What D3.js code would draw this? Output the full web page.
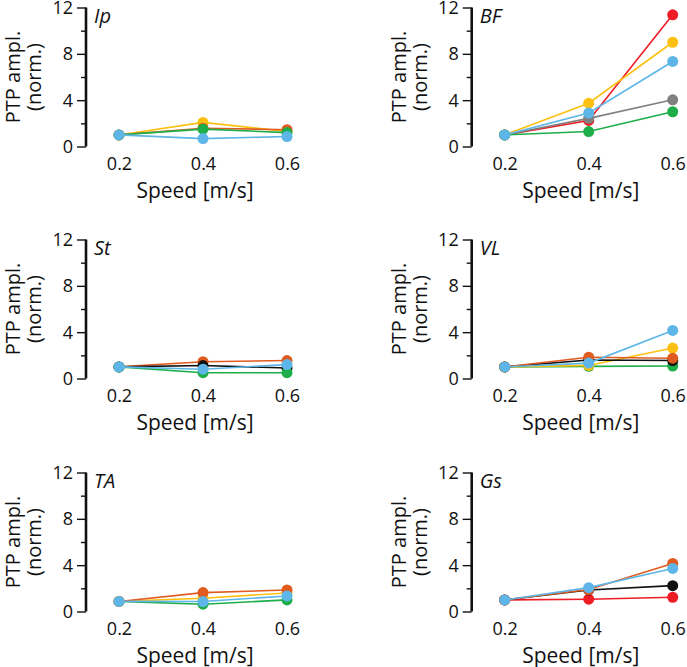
<!DOCTYPE html>
<html><head><meta charset="utf-8">
<script src="https://cdnjs.cloudflare.com/ajax/libs/d3/7.8.5/d3.min.js"></script>
<style>body{margin:0;background:#fff}svg{display:block}text{font-family:"Open Sans",sans-serif;fill:#111}</style>
</head><body>
<script>
const speeds = [0.2, 0.4, 0.6];
const yTicksMajor = [0, 4, 8, 12];
const yTicksMinor = [2, 6, 10];
const panelNames = ["Ip", "BF", "St", "VL", "TA", "Gs"];

const seriesIp = ["yellow", "orange", "green", "blue"];
const valuesIp = [[1, 2.08, 1.3], [1, 1.58, 1.45], [1, 1.5, 1.2], [1, 0.68, 0.86]];

const seriesBF = ["red", "yellow", "gray", "green", "blue"];
const valuesBF = [[1, 2.25, 11.37], [1, 3.74, 9.0], [1, 2.43, 4.03], [1, 1.29, 3.0], [1, 2.89, 7.34]];

const seriesSt = ["orange", "black", "green", "blue"];
const valuesSt = [[1, 1.45, 1.55], [1, 1.12, 0.9], [1, 0.5, 0.5], [1, 0.8, 1.2]];

const seriesVL = ["green", "yellow", "black", "orange", "blue"];
const valuesVL = [[1, 1.05, 1.08], [1, 1.13, 2.63], [1, 1.6, 1.55], [1, 1.84, 1.75], [1, 1.33, 4.15]];

const seriesTA = ["green", "yellow", "orange", "blue"];
const valuesTA = [[0.87, 0.63, 1.0], [0.87, 1.15, 1.6], [0.87, 1.63, 1.86], [0.87, 0.86, 1.34]];

const seriesGs = ["red", "black", "orange", "blue"];
const valuesGs = [[1, 1.06, 1.23], [1, 1.86, 2.23], [1, 1.9, 4.15], [1, 2.06, 3.72]];

const colors = {blue:"#5DB6E7", orange:"#E05B20", yellow:"#FDC012", green:"#1DAE4A",
  red:"#EE1C25", gray:"#808080", black:"#111111"};

const panelSeries = [seriesIp, seriesBF, seriesSt, seriesVL, seriesTA, seriesGs];
const panelValues = [valuesIp, valuesBF, valuesSt, valuesVL, valuesTA, valuesGs];

const W = 687, H = 667;
const svg = d3.select("body").append("svg").attr("width", W).attr("height", H);
const colX = [86, 471.7];
const rowTop = [7.5, 239.5, 472.5];
const ph = 139;

panelNames.forEach((name, i) => {
  const ax = colX[i % 2], top = rowTop[Math.floor(i / 2)];
  const g = svg.append("g");
  const y = d3.scaleLinear().domain([0, 12]).range([top + ph, top]);
  const x = d3.scaleLinear().domain([0.2, 0.6]).range([ax + 33, ax + 201]);

  const yAxis = d3.axisLeft(y).tickValues(yTicksMajor).tickSize(9).tickPadding(4).tickFormat(d3.format("d"));
  const ya = g.append("g").attr("transform", `translate(${ax},0)`).call(yAxis);
  ya.select(".domain").attr("d", `M0,${y(0)}V${y(12)}`).attr("stroke", "#111").attr("stroke-width", 2.6);
  ya.selectAll(".tick line").attr("stroke", "#111").attr("stroke-width", 1.4);
  ya.selectAll(".tick text").style("font-size", "18px").attr("dy", "0.34em");
  const yMinor = d3.axisLeft(y).tickValues(yTicksMinor).tickSize(5).tickFormat("");
  const ym = g.append("g").attr("transform", `translate(${ax},0)`).call(yMinor);
  ym.select(".domain").remove();
  ym.selectAll(".tick line").attr("stroke", "#111").attr("stroke-width", 1.4);

  const xAxis = d3.axisBottom(x).tickValues(speeds).tickSize(0).tickPadding(0).tickFormat(d3.format(".1f"));
  const xa = g.append("g").attr("transform", `translate(0,${y(0) + 11})`).call(xAxis);
  xa.select(".domain").remove();
  xa.selectAll(".tick text").style("font-size", "18px").attr("dy", "0.71em");

  g.append("text").attr("x", x(0.4) - 8).attr("y", y(0) + 51).attr("text-anchor", "middle")
    .style("font-size", "21px").text("Speed [m/s]");

  const lx1 = ax - 73, lx2 = ax - 52, ly = (y(0) + y(12)) / 2;
  g.append("text").attr("transform", `translate(${lx1},${ly}) rotate(-90)`).attr("text-anchor", "middle")
    .attr("dy", "0.35em").style("font-size", "20px").text("PTP ampl.");
  g.append("text").attr("transform", `translate(${lx2},${ly}) rotate(-90)`).attr("text-anchor", "middle")
    .attr("dy", "0.35em").style("font-size", "20px").text("(norm.)");

  g.append("text").attr("x", ax + 8).attr("y", top + 15).style("font-size", "20px")
    .style("font-style", "italic").text(name);

  const line = d3.line().x((d, k) => x(speeds[k])).y(d => y(d));
  panelSeries[i].forEach((s, k) => {
    const vals = panelValues[i][k];
    g.append("path").attr("d", line(vals)).attr("fill", "none")
      .attr("stroke", colors[s]).attr("stroke-width", 1.6);
    g.selectAll(null).data(vals).enter().append("circle")
      .attr("cx", (d, j) => x(speeds[j])).attr("cy", d => y(d)).attr("r", 5.5)
      .attr("fill", colors[s]);
  });
});
</script>
</body></html>
